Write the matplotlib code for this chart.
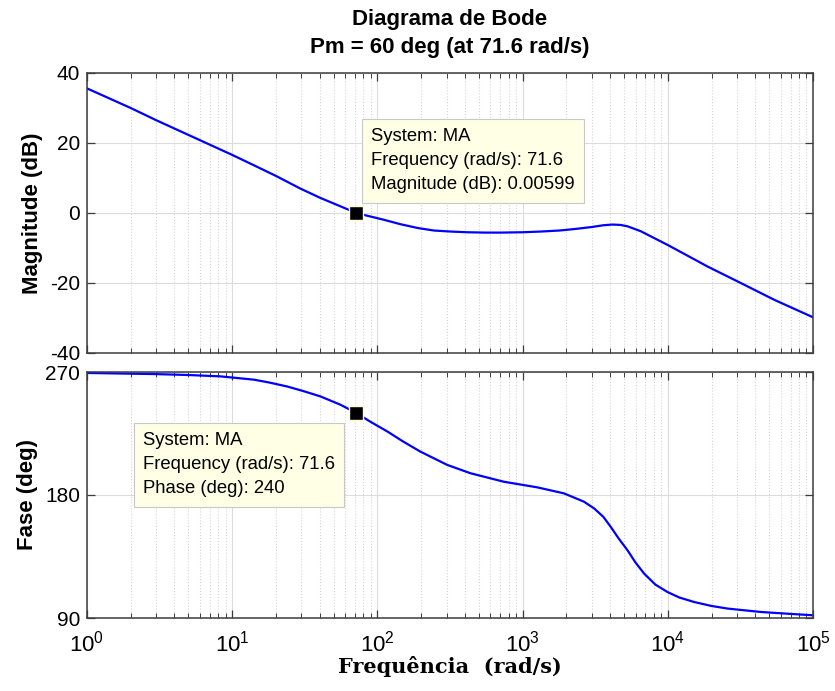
import matplotlib
matplotlib.use("Agg")
import matplotlib.pyplot as plt
from matplotlib.ticker import LogLocator, NullFormatter, FixedLocator

plt.rcParams['font.family'] = ['Liberation Sans', 'DejaVu Sans']
plt.rcParams['mathtext.fontset'] = 'custom'
plt.rcParams['mathtext.rm'] = 'Liberation Sans'
plt.rcParams['mathtext.it'] = 'Liberation Sans'
plt.rcParams['axes.unicode_minus'] = False

# ---- data ----
mag_freq = [1, 2, 3, 5, 10, 14, 20, 29.4, 40, 55, 71.6, 89.5, 110, 144, 190,
            244, 320, 416, 550, 705, 1000, 1331, 1800, 2259, 3000, 3600, 4150,
            4700, 5275, 6510, 8000, 9950, 13000, 18800, 31800, 54100, 100000]
mag_db = [35.6, 30.0, 26.5, 22.3, 16.6, 13.7, 10.6, 7.0, 4.4, 2.0, 0.0, -1.0,
          -1.9, -3.2, -4.3, -5.0, -5.3, -5.5, -5.6, -5.6, -5.5, -5.3, -5.0,
          -4.6, -4.0, -3.5, -3.3, -3.4, -3.8, -5.2, -7.1, -9.1, -11.7, -15.3,
          -20.0, -24.8, -29.8]

ph_freq = [1, 2.88, 5, 8.3, 14.1, 18, 23.9, 31, 40.6, 55.8, 71.6, 89.5, 117,
           150, 198, 303, 438, 743, 1262, 1926, 2647, 3107, 3600, 4045, 4600,
           5275, 6000, 6870, 8200, 9950, 12000, 15200, 20000, 25800, 43800,
           70000, 100000]
ph_deg = [269.3, 268.5, 267.8, 266.8, 264.4, 262.3, 259.4, 256.0, 252.1, 246.0,
          240.0, 233.6, 226.5, 219.2, 211.7, 202.0, 195.9, 189.7, 185.6, 181.2,
          175.1, 170.2, 164.0, 156.7, 148.0, 139.6, 130.5, 122.5, 114.5, 109.0,
          105.0, 101.7, 98.8, 96.9, 94.4, 93.0, 92.0]

mark_freq = 71.6
mark_mag = 0.00599
mark_phase = 240

title_lines = ["Diagrama de Bode", "Pm = 60 deg (at 71.6 rad/s)"]
mag_ticks = [-40, -20, 0, 20, 40]
ph_ticks = [90, 180, 270]

W, H = 835, 691
fig = plt.figure(figsize=(W / 100, H / 100), dpi=100)

def frame(l, t, r, b):
    return [l / W, 1 - b / H, (r - l) / W, (b - t) / H]

ax1 = fig.add_axes(frame(87, 73, 813, 353))
ax2 = fig.add_axes(frame(87, 372, 813, 618))

edge = '#3c3c3c'
for ax in (ax1, ax2):
    ax.set_xscale('log')
    ax.set_xlim(1, 1e5)
    ax.xaxis.set_major_locator(LogLocator(base=10, numticks=10))
    ax.xaxis.set_minor_locator(LogLocator(base=10, subs=range(2, 10), numticks=50))
    ax.xaxis.set_minor_formatter(NullFormatter())
    ax.grid(True, which='major', color='#dcdcdc', lw=0.8, ls='-')
    ax.grid(True, which='minor', axis='x', color='#d6d6d6', lw=0.8, ls=':')
    ax.tick_params(which='both', direction='in', top=True, right=True,
                   colors=edge, labelcolor='black', labelsize=15, pad=5)
    ax.tick_params(which='major', length=6, width=0.9)
    ax.tick_params(which='minor', length=3.5, width=0.7)
    for s in ax.spines.values():
        s.set_color(edge)
        s.set_linewidth(1.1)
    ax.set_axisbelow(True)

ax1.plot(mag_freq, mag_db, color='#0000ff', lw=1.6)
ax1.set_ylim(-40, 40)
ax1.yaxis.set_major_locator(FixedLocator(mag_ticks))
ax1.tick_params(axis='x', which='both', labelbottom=False)
ax1.set_ylabel('Magnitude (dB)', fontsize=16, fontweight='bold', labelpad=5)
ax1.plot([mark_freq], [mark_mag], marker='s', ms=10, mfc='black', mec='#fffbd0',
         mew=1, zorder=5)

ax2.plot(ph_freq, ph_deg, color='#0000ff', lw=1.6)
ax2.set_ylim(90, 270)
ax2.yaxis.set_major_locator(FixedLocator(ph_ticks))
ax2.tick_params(axis='x', which='major', labelsize=16, pad=9)
ax2.set_ylabel('Fase (deg)', fontsize=16, fontweight='bold', labelpad=5)
ax2.plot([mark_freq], [mark_phase], marker='s', ms=10, mfc='black', mec='#fffbd0',
         mew=1, zorder=5)
ax2.set_xlabel('Frequência  (rad/s)', fontsize=15, fontweight='bold',
               family=['DejaVu Serif'], labelpad=0)

fig.text(450 / W, 1 - 19 / H, title_lines[0], ha='center', va='center',
         fontsize=16, fontweight='bold')
fig.text(450 / W, 1 - 47 / H, title_lines[1], ha='center', va='center',
         fontsize=16, fontweight='bold')

box = dict(boxstyle='square,pad=0.5', fc='#ffffe6', ec='#c8c8c8', lw=0.8)
ax1.text((371 - 87) / 726, 1 - (128 - 73) / 280,
         "System: MA\nFrequency (rad/s): %s\nMagnitude (dB): %s" % (mark_freq, mark_mag),
         transform=ax1.transAxes, fontsize=13.3, va='top', ha='left',
         linespacing=1.55, bbox=box, zorder=6)
ax2.text((143 - 87) / 726, 1 - (432 - 372) / 246,
         "System: MA\nFrequency (rad/s): %s\nPhase (deg): %d" % (mark_freq, mark_phase),
         transform=ax2.transAxes, fontsize=13.3, va='top', ha='left',
         linespacing=1.55, bbox=box, zorder=6)

fig.savefig('out.png', dpi=100)
